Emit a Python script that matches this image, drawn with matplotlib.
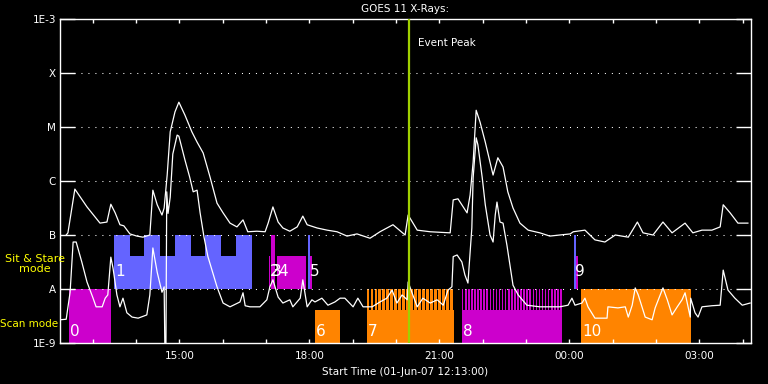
import numpy as np
import matplotlib.pyplot as plt
from matplotlib.ticker import FixedLocator, NullLocator

# times are hours after 00:00 01-Jun-07 (values above 24 are on 02-Jun)
# fluxes are log10(W/m^2)
long_t = [12.39, 12.43, 12.59, 12.87, 13.17, 13.33, 13.42, 13.52, 13.63, 13.72,
          13.86, 14.02, 14.16, 14.32, 14.39, 14.49, 14.60, 14.65, 14.72, 14.79,
          14.90, 14.99, 15.13, 15.29, 15.41, 15.55, 15.71, 15.87, 16.01, 16.17,
          16.33, 16.47, 16.58, 16.79, 16.98, 17.05, 17.16, 17.28, 17.39, 17.55,
          17.72, 17.85, 17.95, 18.18, 18.41, 18.64, 18.87, 19.10, 19.40, 19.63,
          19.93, 20.21, 20.28, 20.49, 20.79, 21.25, 21.32, 21.43, 21.64, 21.71,
          21.78, 21.85, 21.94, 22.06, 22.24, 22.35, 22.47, 22.58, 22.70, 22.86,
          23.05, 23.32, 23.55, 23.78, 24.02, 24.09, 24.36, 24.59, 24.82, 25.06,
          25.36, 25.57, 25.70, 25.93, 26.16, 26.37, 26.67, 26.85, 27.06, 27.29,
          27.48, 27.55, 27.71, 27.89, 28.12]
long_log = [-7.00, -6.96, -6.15, -6.48, -6.78, -6.76, -6.43, -6.59, -6.81, -6.83,
            -6.98, -7.02, -7.04, -7.00, -6.17, -6.44, -6.63, -6.50, -5.89, -5.09,
            -4.72, -4.54, -4.78, -5.09, -5.28, -5.48, -5.93, -6.41, -6.59, -6.78,
            -6.85, -6.72, -6.94, -6.93, -6.94, -6.78, -6.48, -6.76, -6.87, -6.93,
            -6.85, -6.65, -6.81, -6.87, -6.91, -6.94, -7.02, -6.98, -7.06, -6.94,
            -6.81, -7.00, -6.63, -6.91, -6.94, -6.96, -6.35, -6.33, -6.59, -6.26,
            -5.65, -4.69, -4.91, -5.28, -5.89, -5.57, -5.74, -6.20, -6.50, -6.78,
            -6.91, -6.96, -7.02, -7.00, -6.98, -6.94, -6.91, -7.09, -7.13, -7.00,
            -7.04, -6.76, -6.96, -7.00, -6.76, -6.96, -6.78, -6.96, -6.91, -6.91,
            -6.85, -6.44, -6.59, -6.78, -6.78]

short_t = [12.25, 12.39, 12.48, 12.55, 12.62, 12.75, 12.87, 13.01, 13.08, 13.22,
           13.29, 13.35, 13.42, 13.47, 13.56, 13.63, 13.70, 13.79, 13.91, 14.05,
           14.25, 14.32, 14.39, 14.49, 14.60, 14.65, 14.67, 14.69, 14.71, 14.74,
           14.79, 14.85, 14.95, 14.99, 15.13, 15.24, 15.32, 15.41, 15.48, 15.57,
           15.66, 15.87, 16.01, 16.17, 16.40, 16.47, 16.52, 16.63, 16.86, 17.02,
           17.09, 17.16, 17.28, 17.39, 17.55, 17.62, 17.79, 17.85, 17.95, 18.06,
           18.13, 18.29, 18.43, 18.59, 18.71, 18.82, 19.01, 19.12, 19.24, 19.45,
           19.63, 19.79, 19.91, 20.02, 20.14, 20.26, 20.28, 20.37, 20.49, 20.62,
           20.79, 20.95, 21.09, 21.20, 21.29, 21.32, 21.41, 21.52, 21.59, 21.66,
           21.75, 21.78, 21.85, 21.89, 21.99, 22.06, 22.17, 22.24, 22.29, 22.33,
           22.40, 22.47, 22.56, 22.63, 22.70, 22.82, 23.02, 23.32, 23.78, 23.97,
           24.06, 24.13, 24.29, 24.36, 24.43, 24.59, 24.87, 24.89, 25.12, 25.29,
           25.36, 25.45, 25.52, 25.59, 25.75, 25.91, 25.98, 26.16, 26.26, 26.37,
           26.49, 26.60, 26.67, 26.79, 26.80, 26.90, 26.97, 27.06, 27.29, 27.48,
           27.55, 27.66, 27.82, 27.99, 28.17]
short_log = [-8.57, -8.56, -8.06, -7.13, -7.13, -7.50, -7.87, -8.17, -8.33, -8.33,
             -8.17, -8.11, -7.41, -7.61, -8.11, -8.33, -8.17, -8.44, -8.52, -8.54,
             -8.48, -8.11, -7.24, -7.69, -8.06, -7.96, -9.30, -9.30, -6.20, -6.60,
             -6.30, -5.50, -5.15, -5.17, -5.61, -5.93, -6.20, -6.17, -6.59, -7.04,
             -7.40, -7.96, -8.26, -8.33, -8.24, -8.07, -8.31, -8.33, -8.33, -8.20,
             -7.96, -7.83, -8.15, -8.26, -8.20, -8.33, -8.17, -7.83, -8.33, -8.20,
             -8.24, -8.17, -8.30, -8.24, -8.17, -8.17, -8.33, -8.17, -8.33, -8.33,
             -8.24, -8.17, -8.02, -8.26, -8.11, -8.20, -7.87, -8.07, -8.33, -8.17,
             -8.26, -8.20, -8.30, -8.02, -7.96, -7.40, -7.37, -7.50, -7.74, -7.89,
             -6.87, -5.94, -5.20, -5.33, -5.94, -6.44, -7.00, -7.13, -6.63, -6.39,
             -6.76, -6.78, -7.19, -7.56, -7.93, -8.11, -8.30, -8.33, -8.33, -8.30,
             -8.17, -8.30, -8.26, -8.17, -8.33, -8.54, -8.54, -8.33, -8.35, -8.33,
             -8.52, -8.30, -7.98, -8.11, -8.52, -8.57, -8.35, -7.98, -8.20, -8.48,
             -8.33, -8.20, -8.07, -8.52, -8.17, -8.44, -8.52, -8.33, -8.31, -8.30,
             -7.65, -8.02, -8.17, -8.30, -8.26]

# observation segments: start, end, mode row, full/partial, type
seg_start = [12.45, 13.49, 13.86, 14.18, 14.55, 14.90, 15.27, 15.59, 15.96, 16.31,
             17.07, 17.12, 17.25, 17.98, 18.02, 18.13, 19.32, 21.52, 24.11, 24.15, 24.27]
seg_end = [13.42, 13.86, 14.18, 14.55, 14.90, 15.27, 15.59, 15.96, 16.31, 16.67,
           17.095, 17.21, 17.92, 18.02, 18.06, 18.71, 21.33, 23.82, 24.15, 24.20, 26.80]
seg_row = ['scan', 'ss', 'ss', 'ss', 'ss', 'ss', 'ss', 'ss', 'ss', 'ss',
           'ss', 'ss', 'ss', 'ss', 'ss', 'scan', 'scan', 'scan', 'ss', 'ss', 'scan']
seg_full = [1, 1, 0, 1, 0, 1, 0, 1, 0, 1,
            0, 1, 0, 1, 0, 0, 0, 0, 1, 0, 1]
seg_type = ['mag', 'blue', 'blue', 'blue', 'blue', 'blue', 'blue', 'blue', 'blue', 'blue',
            'mag', 'mag', 'mag', 'blue', 'mag', 'orange', 'orange', 'mag', 'blue', 'mag', 'orange']

# striped (rapid cadence) intervals: start, end, cadence, frame length
stripe_start = [19.32, 21.52]
stripe_end = [21.33, 23.82]
stripe_step = [0.092, 0.0709]
stripe_len = [0.062, 0.036]
stripe_type = ['orange', 'mag']

label_num = ['0', '1', '2', '3', '4', '5', '6', '7', '8', '9', '10']
label_t = [12.45, 13.49, 17.07, 17.10, 17.25, 17.98, 18.13, 19.32, 21.52, 24.11, 24.27]
label_row = ['scan', 'ss', 'ss', 'ss', 'ss', 'ss', 'scan', 'scan', 'scan', 'ss', 'scan']

event_peak = 20.30

colours = {'blue': '#6464ff', 'mag': '#cc00cc', 'orange': '#ff8400'}
row_base = {'ss': 1e-8, 'scan': 1e-9}

fig = plt.figure(figsize=(7.68, 3.84), dpi=100, facecolor='black')
ax = fig.add_axes([60 / 768, 1 - 343 / 384, 690.5 / 768, 324 / 384], facecolor='black')
ax.set_yscale('log')
ax.set_xlim(12.247, 28.18)
ax.set_ylim(1e-9, 1e-3)

for s, e, r, f, k in zip(seg_start, seg_end, seg_row, seg_full, seg_type):
    b = row_base[r]
    top = b * 10 if f else b * 4.1
    ax.fill_between([s, e], b, top, color=colours[k], lw=0, zorder=1)

for s, e, st, ln, k in zip(stripe_start, stripe_end, stripe_step, stripe_len, stripe_type):
    for t0 in np.arange(s, e - ln * 0.5, st):
        ax.fill_between([t0, t0 + ln], 1e-9, 1e-8, color=colours[k], lw=0, zorder=1)

for lev in [1e-8, 1e-7, 1e-6, 1e-5, 1e-4]:
    ax.axhline(lev, color='white', lw=0.75, ls=(0, (1, 5.7)), zorder=2)

ax.plot(long_t, 10 ** np.array(long_log), color='white', lw=0.9, zorder=3)
ax.plot(short_t, 10 ** np.array(short_log), color='white', lw=0.9, zorder=3)

for n, t, r in zip(label_num, label_t, label_row):
    yv = 2.15e-8 if r == 'ss' else 1.6e-9
    ax.text(t + 0.03, yv, n, color='white', fontsize=11, va='center', ha='left', zorder=4)

ax.axvline(event_peak, color='#a0d000', lw=1.6, zorder=5)
ax.text(event_peak + 0.21, 10 ** -3.44, 'Event Peak', color='white', fontsize=7.5,
        va='center', ha='left')

for sp in ax.spines.values():
    sp.set_color('white')
    sp.set_linewidth(1)

ax.yaxis.set_major_locator(FixedLocator([1e-9, 1e-8, 1e-7, 1e-6, 1e-5, 1e-4, 1e-3]))
ax.yaxis.set_minor_locator(NullLocator())
ax.set_yticklabels(['1E-9', 'A', 'B', 'C', 'M', 'X', '1E-3'])
ax.tick_params(axis='y', which='major', direction='in', length=10.8, width=1,
               colors='white', left=True, right=True, labelsize=7.5, pad=3)

ax.xaxis.set_major_locator(FixedLocator([15, 18, 21, 24, 27]))
ax.xaxis.set_minor_locator(FixedLocator(list(range(13, 29))))
ax.set_xticklabels(['15:00', '18:00', '21:00', '00:00', '03:00'])
ax.tick_params(axis='x', which='both', direction='in', length=3, width=1,
               colors='white', top=True, bottom=True, labelsize=7.5, pad=6)

ax.set_title('GOES 11 X-Rays:', color='white', fontsize=7.5, pad=5)
ax.set_xlabel('Start Time (01-Jun-07 12:13:00)', color='white', fontsize=7.5, labelpad=4)

fig.text(35 / 768, 1 - 264 / 384, 'Sit & Stare\nmode', color='yellow', fontsize=8,
         ha='center', va='center', linespacing=1.1)
fig.text(29 / 768, 1 - 324 / 384, 'Scan mode', color='yellow', fontsize=7.5,
         ha='center', va='center')

fig.savefig('out.png', dpi=100, facecolor='black')
